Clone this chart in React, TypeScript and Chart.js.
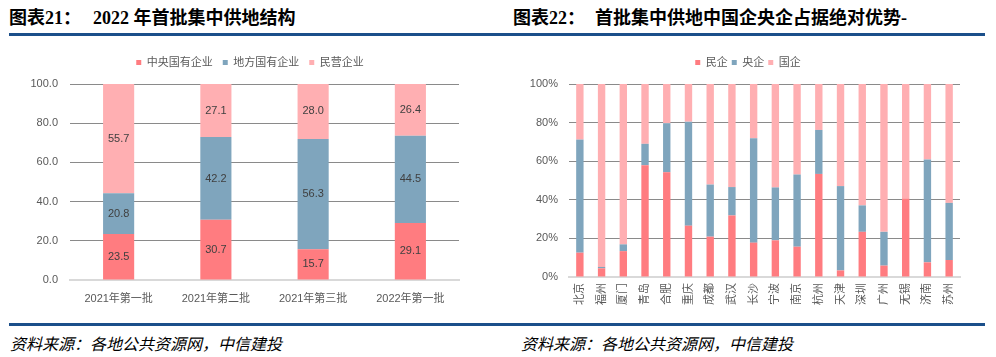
import React, { useEffect, useRef } from 'react';
import { Chart, registerables } from 'chart.js';

Chart.register(...registerables);

// ---------- Left chart data ----------
const batchLabels = ['2021年第一批', '2021年第二批', '2021年第三批', '2022年第一批'];
const centralSOE = [23.5, 30.7, 15.7, 29.1];
const localSOE = [20.8, 42.2, 56.3, 44.5];
const privateEnt = [55.7, 27.1, 28.0, 26.4];
const leftSeriesNames = ['中央国有企业', '地方国有企业', '民营企业'];
const leftTicks = [0, 20, 40, 60, 80, 100];

// ---------- Right chart data ----------
const cities = ['北京', '福州', '厦门', '青岛', '合肥', '重庆', '成都', '武汉', '长沙', '宁波', '南京', '杭州', '天津', '深圳', '广州', '无锡', '济南', '苏州'];
const minQi = [12.6, 4.5, 13.4, 57.9, 54.3, 26.6, 20.9, 31.9, 17.8, 19.0, 15.7, 53.4, 3.4, 23.4, 5.9, 40.7, 7.6, 8.8];
const yangQi = [58.6, 0.7, 3.5, 11.1, 25.4, 53.9, 27.0, 14.7, 54.1, 27.4, 37.4, 22.8, 43.7, 13.7, 17.5, 0.0, 53.3, 29.6];
const guoQi = [28.8, 94.8, 83.1, 31.0, 20.3, 19.5, 52.1, 53.4, 28.1, 53.6, 46.9, 23.8, 52.9, 62.9, 76.6, 59.3, 39.1, 61.6];
const rightSeriesNames = ['民企', '央企', '国企'];

const RED = '#FF7C80';
const BLUE = '#7FA5BD';
const PINK = '#FFAFB2';
const TXT = '#595959';
const FONT = "'Liberation Sans', 'Noto Sans CJK SC', sans-serif";

const valueLabelPlugin = {
  id: 'valueLabels',
  afterDatasetsDraw(chart: any) {
    const ctx = chart.ctx;
    ctx.save();
    ctx.font = "11px 'Liberation Sans', sans-serif";
    ctx.fillStyle = '#404040';
    ctx.textAlign = 'center';
    ctx.textBaseline = 'middle';
    chart.data.datasets.forEach((ds: any, i: number) => {
      const meta = chart.getDatasetMeta(i);
      meta.data.forEach((el: any, j: number) => {
        const v = ds.data[j];
        const p = el.getProps(['x', 'y', 'base'], true);
        ctx.fillText(Number(v).toFixed(1), p.x, (p.y + p.base) / 2);
      });
    });
    ctx.restore();
  },
};

// adds extra space below the legend and centres it on the whole canvas
function legendTweak(extra: number) {
  return {
    id: 'legendTweak',
    beforeInit(chart: any) {
      const lg = chart.legend;
      if (!lg) return;
      const orig = lg.fit;
      lg.fit = function () {
        orig.call(this);
        this.height += extra;
      };
    },
    afterLayout(chart: any) {
      if (chart.legend) {
        chart.legend.left = 0;
        chart.legend.right = chart.width;
      }
    },
  };
}

function gridColor(c: any) {
  return c.tick && c.tick.value === 0 ? 'rgba(0,0,0,0)' : '#8a8a8a';
}

function makeLegend(pad: number) {
  return {
    display: true,
    position: 'top' as const,
    labels: {
      boxWidth: 5,
      boxHeight: 5,
      padding: pad,
      color: TXT,
      font: { size: 11, family: FONT },
    },
  };
}

function LeftChart() {
  const ref = useRef<HTMLCanvasElement>(null);
  useEffect(() => {
    const chart = new Chart(ref.current!, {
      type: 'bar',
      data: {
        labels: batchLabels,
        datasets: [
          { label: leftSeriesNames[0], data: centralSOE, backgroundColor: RED },
          { label: leftSeriesNames[1], data: localSOE, backgroundColor: BLUE },
          { label: leftSeriesNames[2], data: privateEnt, backgroundColor: PINK },
        ],
      },
      options: {
        animation: false,
        responsive: false,
        maintainAspectRatio: false,
        layout: { padding: { left: 0, right: 41, top: 7, bottom: 0 } },
        datasets: { bar: { categoryPercentage: 1, barPercentage: 0.32 } },
        plugins: { legend: makeLegend(10), tooltip: { enabled: false } },
        scales: {
          x: {
            stacked: true,
            grid: { display: false, drawTicks: false },
            border: { display: true, color: '#d9d9d9', width: 2 },
            ticks: { color: TXT, font: { size: 11, family: FONT }, padding: 12, maxRotation: 0 },
            afterFit: (s: any) => { s.height = 35; },
          },
          y: {
            stacked: true,
            min: 0,
            max: 100,
            afterBuildTicks: (s: any) => { s.ticks = leftTicks.map((v) => ({ value: v })); },
            grid: { color: gridColor, lineWidth: 1, borderDash: [3, 2], drawTicks: false } as any,
            border: { display: false },
            ticks: {
              color: TXT,
              font: { size: 11, family: FONT },
              padding: 12,
              callback: (v: any) => Number(v).toFixed(1),
            },
            afterFit: (s: any) => { s.width = 70; },
          },
        },
      },
      plugins: [valueLabelPlugin, legendTweak(6)],
    });
    return () => chart.destroy();
  }, []);
  return <canvas ref={ref} width={500} height={275} style={{ position: 'absolute', left: 0, top: 40, width: 500, height: 275 }} />;
}

function RightChart() {
  const ref = useRef<HTMLCanvasElement>(null);
  useEffect(() => {
    const chart = new Chart(ref.current!, {
      type: 'bar',
      data: {
        labels: cities,
        datasets: [
          { label: rightSeriesNames[0], data: minQi, backgroundColor: RED },
          { label: rightSeriesNames[1], data: yangQi, backgroundColor: BLUE },
          { label: rightSeriesNames[2], data: guoQi, backgroundColor: PINK },
        ],
      },
      options: {
        animation: false,
        responsive: false,
        maintainAspectRatio: false,
        layout: { padding: { left: 0, right: 36, top: 13, bottom: 0 } },
        datasets: { bar: { categoryPercentage: 1, barPercentage: 0.34 } },
        plugins: { legend: makeLegend(4), tooltip: { enabled: false } },
        scales: {
          x: {
            stacked: true,
            grid: { display: false, drawTicks: false },
            border: { display: true, color: '#d9d9d9', width: 2 },
            ticks: { color: TXT, font: { size: 11, family: FONT }, padding: 6, minRotation: 90, maxRotation: 90, autoSkip: false },
            afterFit: (s: any) => { s.height = 38; },
          },
          y: {
            stacked: true,
            min: 0,
            max: 100,
            grid: { color: gridColor, lineWidth: 1, borderDash: [3, 2], drawTicks: false } as any,
            border: { display: false },
            ticks: {
              stepSize: 20,
              color: TXT,
              font: { size: 11, family: FONT },
              padding: 11,
              callback: (v: any) => `${v}%`,
            },
            afterFit: (s: any) => { s.width = 69; },
          },
        },
      },
      plugins: [legendTweak(6)],
    });
    return () => chart.destroy();
  }, []);
  return <canvas ref={ref} width={496} height={275} style={{ position: 'absolute', left: 500, top: 40, width: 496, height: 275 }} />;
}

const titleFont = "'Liberation Serif', 'Noto Sans CJK SC', serif";
const sourceFont = "'Noto Sans CJK SC', sans-serif";
const titleStyle: React.CSSProperties = { position: 'absolute', top: 6, fontFamily: titleFont, fontWeight: 'bold', fontSize: 18, color: '#000', whiteSpace: 'nowrap', lineHeight: '24px' };
const sourceStyle: React.CSSProperties = { position: 'absolute', top: 332, fontFamily: sourceFont, fontStyle: 'italic', fontSize: 16, color: '#000', whiteSpace: 'nowrap', lineHeight: '22px' };

export default function App() {
  return (
    <div style={{ position: 'absolute', left: 0, top: 0, width: 996, height: 357, background: '#fff', overflow: 'hidden' }}>
      <div style={{ ...titleStyle, left: 9 }}>图表21：</div>
      <div style={{ ...titleStyle, left: 93 }}>2022 年首批集中供地结构</div>
      <div style={{ ...titleStyle, left: 513 }}>图表22：</div>
      <div style={{ ...titleStyle, left: 595 }}>首批集中供地中国企央企占据绝对优势-</div>
      <div style={{ position: 'absolute', left: 9, top: 33, width: 976, height: 3, background: '#1B4F8A' }} />
      <LeftChart />
      <RightChart />
      <div style={{ position: 'absolute', left: 9, top: 323, width: 976, height: 3, background: '#1B4F8A' }} />
      <div style={{ ...sourceStyle, left: 10 }}>资料来源：各地公共资源网，中信建投</div>
      <div style={{ ...sourceStyle, left: 521 }}>资料来源：各地公共资源网，中信建投</div>
    </div>
  );
}
